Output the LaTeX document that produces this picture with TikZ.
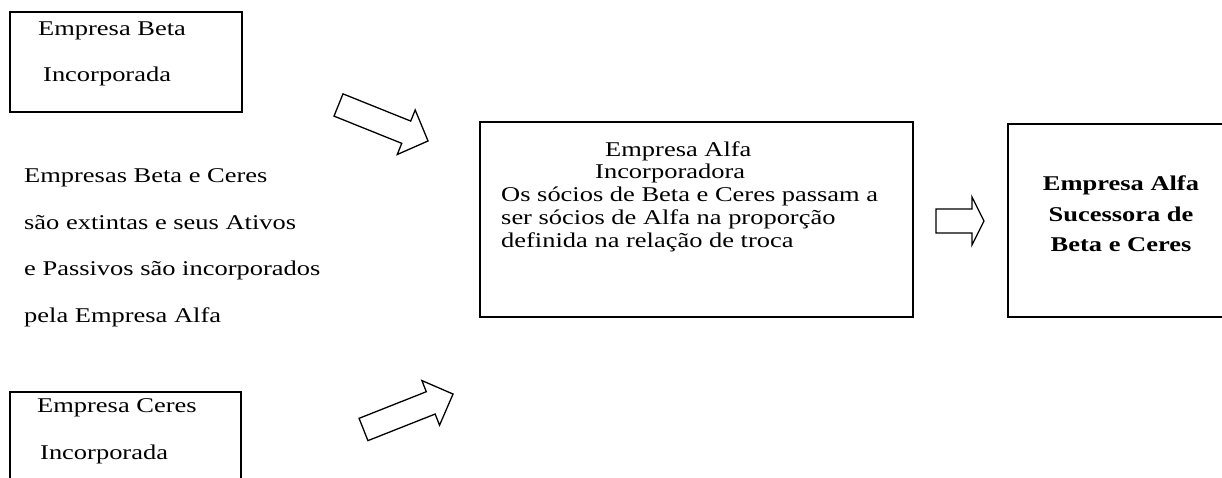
\documentclass[tikz,border=0pt]{standalone}
\usepackage{fontspec}
\setmainfont{Liberation Serif}[FakeStretch=1.26]
\usepackage{tikz}

\tikzset{
  caixa/.style={draw, line width=1.8pt, inner sep=0pt},
  texto/.style={inner sep=0pt, anchor=base west, font=\fontsize{21}{23}\selectfont},
  negrito/.style={inner sep=0pt, anchor=base, font=\fontsize{21}{23}\selectfont\bfseries},
  seta/.style={draw, line width=1.3pt, line join=miter, fill=white},
}

% seta larga: cauda, angulo, comprimento, ponta
\newcommand{\setalarga}[4]{%
  \draw[seta, shift={(#1)}, rotate=#2]
    (0,-12) -- ({#3-#4},-12) -- ({#3-#4},-24) -- (#3,0)
    -- ({#3-#4},24) -- ({#3-#4},12) -- (0,12) -- cycle;
}

\begin{document}
\begin{tikzpicture}[x=1pt, y=1pt]

\useasboundingbox (0,0) rectangle (1222,478);
\clip (0,0) rectangle (1222,478);

% Caixas
\node[caixa, minimum width=232pt, minimum height=100pt] (beta) at (126,416) {};
\node[caixa, minimum width=231pt, minimum height=132pt] (ceres) at (125.5,20) {};
\node[caixa, minimum width=433pt, minimum height=195pt] (alfa) at (696.5,258.5) {};
\node[caixa, minimum width=232pt, minimum height=193pt] (sucessora) at (1124,257.5) {};

% Setas
\coordinate (setaBeta) at (338.5,373);
\coordinate (setaCeres) at (363.5,48.5);
\coordinate (setaAlfa) at (936,257);
\setalarga{setaBeta}{-21.9}{96.5}{23.5}
\setalarga{setaCeres}{21.6}{96.3}{24}
\setalarga{setaAlfa}{0}{48}{12}

% Textos
\node[texto] (betaNome) at (38,442) {Empresa Beta};
\node[texto] (betaTipo) at (43,396) {Incorporada};

\node[texto] (obsA) at (24,295) {Empresas Beta e Ceres};
\node[texto] (obsB) at (24,248) {são extintas e seus Ativos};
\node[texto] (obsC) at (24,202) {e Passivos são incorporados};
\node[texto] (obsD) at (24,155) {pela Empresa Alfa};

\node[texto] (ceresNome) at (37,65) {Empresa Ceres};
\node[texto] (ceresTipo) at (40,18) {Incorporada};

\node[texto] (alfaNome) at (605,321) {Empresa Alfa};
\node[texto] (alfaTipo) at (595,299) {Incorporadora};
\node[texto] (alfaA) at (501,276) {Os sócios de Beta e Ceres passam a};
\node[texto] (alfaB) at (501,253) {ser sócios de Alfa na proporção};
\node[texto] (alfaC) at (501,230) {definida na relação de troca};

\node[negrito] (sucA) at (1121,287) {Empresa Alfa};
\node[negrito] (sucB) at (1121,256) {Sucessora de};
\node[negrito] (sucC) at (1121,226) {Beta e Ceres};

\end{tikzpicture}
\end{document}
